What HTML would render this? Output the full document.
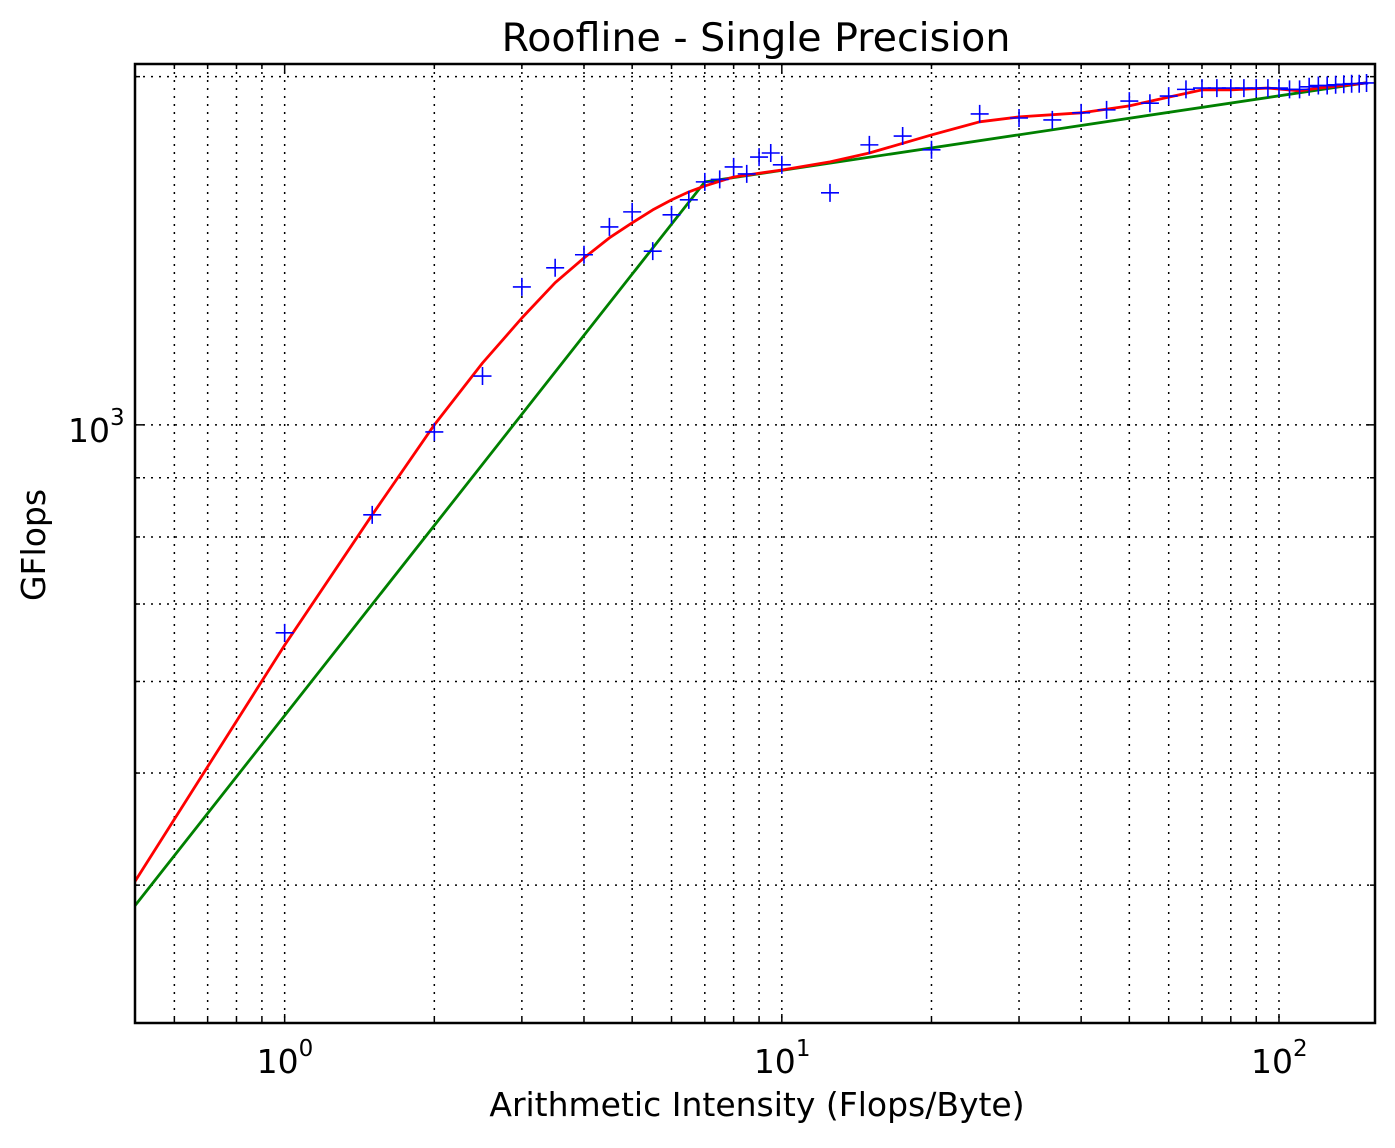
<!DOCTYPE html>
<html><head><meta charset="utf-8"><style>
body{margin:0;background:#fff}
svg text{font-family:"DejaVu Sans","Liberation Sans",sans-serif;fill:#000}
</style></head><body>
<svg id="chart" width="1395" height="1143" xmlns="http://www.w3.org/2000/svg">
<rect width="1395" height="1143" fill="#fff"/>
<g id="grid"></g>
<g id="series"></g>
<rect x="135" y="64" width="1240" height="959" fill="none" stroke="#000" stroke-width="2.5"/>
<g id="ticks"></g>
<text x="756" y="51" font-size="39.5" text-anchor="middle">Roofline - Single Precision</text>
<text x="757" y="1116" font-size="33" text-anchor="middle">Arithmetic Intensity (Flops/Byte)</text>
<text transform="translate(45,545) rotate(-90)" font-size="33" text-anchor="middle">GFlops</text>
</svg>
<script>
const measX=[1,1.5,2,2.5,3,3.5,4,4.5,5,5.5,6,6.5,7,7.5,8,8.5,9,9.5,10,12.5,15,17.5,20,25,30,35,40,45,50,55,60,65,70,75,80,85,90,95,100,105,110,115,120,125,130,135,140,145,150];
const measY=[661,836,986,1102,1316,1367,1403,1483,1528,1413,1519,1565,1622,1630,1671,1648,1704,1718,1678,1587,1746,1777,1729,1857,1842,1835,1861,1872,1905,1897,1924,1950,1955,1955,1955,1955,1955,1955,1955,1950,1950,1960,1965,1965,1968,1970,1972,1972,1975];
const fitX=[0.5,1,1.5,2,2.5,3,3.5,4,4.5,5,5.5,6,6.5,7,8,10,12.5,15,20,25,30,40,50,60,70,80,95,110,120,150];
const fitY=[403,645,836,1000,1131,1237,1327,1394,1451,1495,1534,1565,1590,1609,1638,1661,1688,1718,1781,1828,1846,1861,1887,1920,1948,1948,1955,1944,1955,1975];
const roofX=[0.5,7,150];
const roofY=[384,1622,1976];
const xTickVals=[1,10,100];
const xTickExp=["0","1","2"];
const yTickVals=[1000];
const yTickExp=["3"];

const L=135,R=1375,T=64,B=1023;
const xmin=0.5,xmax=156,ymin=304,ymax=2051;
const X=v=>L+(Math.log10(v)-Math.log10(xmin))/(Math.log10(xmax)-Math.log10(xmin))*(R-L);
const Y=v=>B-(Math.log10(v)-Math.log10(ymin))/(Math.log10(ymax)-Math.log10(ymin))*(B-T);
const NS="http://www.w3.org/2000/svg";
function mk(tag,attrs,parent){const e=document.createElementNS(NS,tag);for(const k in attrs)e.setAttribute(k,attrs[k]);parent.appendChild(e);return e;}
const grid=document.getElementById('grid'),ticks=document.getElementById('ticks'),ser=document.getElementById('series');

for(let d=-1;d<=2;d++)for(let m=1;m<10;m++){
  const v=m*Math.pow(10,d);if(v<xmin||v>xmax)continue;
  const x=X(v);
  const g=mk('line',{x1:x,x2:x,y1:T,y2:B,stroke:'#000','stroke-width':1.5,'stroke-dasharray':'2,6'},grid);
  
  
  const len=m===1?9:5;
  const t1=mk('line',{x1:x,x2:x,y1:B,y2:B-len,stroke:'#000','stroke-width':1.5},ticks);
  
  
  const t2=mk('line',{x1:x,x2:x,y1:T,y2:T+len,stroke:'#000','stroke-width':1.5},ticks);
  
  
}
for(let d=2;d<=3;d++)for(let m=1;m<10;m++){
  const v=m*Math.pow(10,d);if(v<ymin||v>ymax)continue;
  const y=Y(v);
  const g=mk('line',{x1:L,x2:R,y1:y,y2:y,stroke:'#000','stroke-width':1.5,'stroke-dasharray':'2,6'},grid);
  
  
  const len=m===1?9:5;
  const t1=mk('line',{x1:L,x2:L+len,y1:y,y2:y,stroke:'#000','stroke-width':1.5},ticks);
  
  
  const t2=mk('line',{x1:R,x2:R-len,y1:y,y2:y,stroke:'#000','stroke-width':1.5},ticks);
  
  
}
xTickVals.forEach((v,i)=>{
  const t=mk('text',{x:X(v)-28,y:1073,'font-size':33},ticks);
  
  
  t.textContent='10';
  const s=mk('tspan',{dy:-17,'font-size':23},t);s.textContent=xTickExp[i];
});
yTickVals.forEach((v,i)=>{
  const t=mk('text',{x:68,y:Y(v)+17,'font-size':33},ticks);
  
  
  t.textContent='10';
  const s=mk('tspan',{dy:-17,'font-size':23},t);s.textContent=yTickExp[i];
});
const clip=mk('clipPath',{id:'pc'},document.getElementById('chart'));
mk('rect',{x:L,y:T,width:R-L,height:B-T},clip);
ser.setAttribute('clip-path','url(#pc)');
const roof=mk('polyline',{points:roofX.map((v,i)=>X(v)+','+Y(roofY[i])).join(' '),fill:'none',stroke:'#008000','stroke-width':2.8},ser);


const fit=mk('polyline',{points:fitX.map((v,i)=>X(v)+','+Y(fitY[i])).join(' '),fill:'none',stroke:'#ff0000','stroke-width':2.8,'stroke-linejoin':'round'},ser);


measX.forEach((v,i)=>{
  const x=X(v),y=Y(measY[i]);
  const p=mk('path',{d:`M${x-9},${y}H${x+9}M${x},${y-9}V${y+9}`,stroke:'#0000ff','stroke-width':1.6},ser);
  
  
});
</script>
</body></html>
